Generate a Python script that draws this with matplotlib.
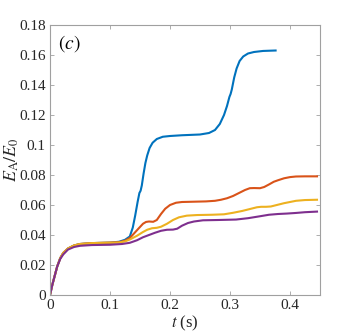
import matplotlib
matplotlib.use('Agg')
import matplotlib.pyplot as plt

# Data (t in s, E_A/E_0)
early_t = [0, 0.004, 0.008, 0.012, 0.017, 0.022, 0.03, 0.04, 0.05, 0.07, 0.1]
early_y = [0, 0.007, 0.013, 0.019, 0.0245, 0.028, 0.031, 0.033, 0.034, 0.0346, 0.0349]

blue_t = early_t + [0.115, 0.125, 0.133, 0.138, 0.142, 0.146, 0.149, 0.151, 0.153, 0.156,
                    0.159, 0.162, 0.166, 0.171, 0.178, 0.188, 0.2, 0.22, 0.25, 0.265,
                    0.275, 0.283, 0.29, 0.295, 0.299, 0.301, 0.303, 0.307, 0.311, 0.316,
                    0.322, 0.33, 0.34, 0.355, 0.376]
blue_y = early_y + [0.0355, 0.0368, 0.039, 0.045, 0.053, 0.062, 0.068, 0.0695, 0.073, 0.081,
                    0.088, 0.093, 0.098, 0.1015, 0.104, 0.1055, 0.106, 0.1065, 0.107, 0.108,
                    0.110, 0.114, 0.120, 0.126, 0.132, 0.134, 0.137, 0.145, 0.151, 0.156,
                    0.159, 0.161, 0.162, 0.1627, 0.163]

orange_t = early_t + [0.115, 0.125, 0.133, 0.14, 0.148, 0.155, 0.16, 0.165, 0.172, 0.178,
                      0.185, 0.192, 0.2, 0.21, 0.22, 0.24, 0.26, 0.275, 0.285, 0.295,
                      0.305, 0.315, 0.325, 0.333, 0.34, 0.35, 0.357, 0.365, 0.373, 0.38,
                      0.39, 0.4, 0.41, 0.425, 0.445]
orange_y = early_y + [0.0352, 0.0362, 0.038, 0.041, 0.0445, 0.0475, 0.0487, 0.049, 0.0488, 0.050,
                      0.054, 0.0575, 0.060, 0.0615, 0.062, 0.0622, 0.0624, 0.0628, 0.0635, 0.0645,
                      0.066, 0.068, 0.070, 0.0712, 0.0713, 0.0712, 0.072, 0.0737, 0.0755, 0.0765,
                      0.0778, 0.0786, 0.079, 0.0791, 0.0791]

yellow_t = early_t + [0.115, 0.125, 0.133, 0.145, 0.155, 0.162, 0.17, 0.178, 0.185, 0.195,
                      0.205, 0.215, 0.228, 0.245, 0.27, 0.29, 0.305, 0.32, 0.335, 0.345,
                      0.352, 0.36, 0.368, 0.378, 0.39, 0.4, 0.41, 0.425, 0.445]
yellow_y = early_y + [0.035, 0.0357, 0.037, 0.0395, 0.042, 0.0435, 0.0445, 0.0448, 0.0455, 0.0475,
                      0.050, 0.0518, 0.0529, 0.0533, 0.0535, 0.0538, 0.0548, 0.056, 0.0575, 0.0585,
                      0.0588, 0.0588, 0.059, 0.060, 0.0612, 0.062, 0.0628, 0.0633, 0.0635]

purple_t = [0, 0.004, 0.008, 0.012, 0.017, 0.022, 0.03, 0.04, 0.05, 0.07, 0.1, 0.12, 0.133,
            0.145, 0.155, 0.165, 0.175, 0.185, 0.195, 0.205, 0.212, 0.22, 0.23, 0.24, 0.255,
            0.28, 0.31, 0.33, 0.35, 0.365, 0.38, 0.395, 0.41, 0.425, 0.445]
purple_y = [0, 0.007, 0.013, 0.019, 0.024, 0.027, 0.0303, 0.032, 0.0328, 0.0333, 0.0335, 0.034, 0.0348,
            0.0365, 0.0385, 0.040, 0.0415, 0.0428, 0.0435, 0.0436, 0.0442, 0.0462, 0.048, 0.049, 0.0498,
            0.050, 0.0503, 0.0512, 0.0525, 0.0535, 0.054, 0.0543, 0.0547, 0.0552, 0.0556]

x_ticks = [0, 0.1, 0.2, 0.3, 0.4]
x_ticklabels = ['0', '0.1', '0.2', '0.3', '0.4']
y_ticks = [0, 0.02, 0.04, 0.06, 0.08, 0.1, 0.12, 0.14, 0.16, 0.18]
y_ticklabels = ['0', '0.02', '0.04', '0.06', '0.08', '0.1', '0.12', '0.14', '0.16', '0.18']

plt.rcParams['font.family'] = ['Liberation Serif', 'DejaVu Serif']
plt.rcParams['mathtext.fontset'] = 'stix'

fig = plt.figure(figsize=(3.54, 3.35), dpi=100)
ax = fig.add_axes([50 / 354, 40 / 335, 270 / 354, 270 / 335])

lw = 1.5
ax.plot(blue_t, blue_y, color='#0072BD', lw=lw)
ax.plot(orange_t, orange_y, color='#D95319', lw=lw)
ax.plot(yellow_t, yellow_y, color='#EDB120', lw=lw)
ax.plot(purple_t, purple_y, color='#7E2F8E', lw=lw)

ax.set_xlim(0, 0.45)
ax.set_ylim(0, 0.18)
ax.set_xticks(x_ticks)
ax.set_xticklabels(x_ticklabels)
ax.set_yticks(y_ticks)
ax.set_yticklabels(y_ticklabels)

ax.tick_params(direction='in', top=True, right=True, length=3, width=0.6,
               color='#a0a0a0', labelsize=11, labelcolor='#262626', pad=3)
for sp in ax.spines.values():
    sp.set_color('#a0a0a0')
    sp.set_linewidth(0.8)

ax.set_xlabel('$t$ (s)', fontsize=12, color='#262626', labelpad=1)
ax.set_ylabel(r'$E_{\rm A}/E_0$', fontsize=13, color='#262626', labelpad=-1)
ax.text(0.03, 0.97, '$(c)$', transform=ax.transAxes, fontsize=14,
        ha='left', va='top', color='black')

fig.savefig('out.png', dpi=100)
